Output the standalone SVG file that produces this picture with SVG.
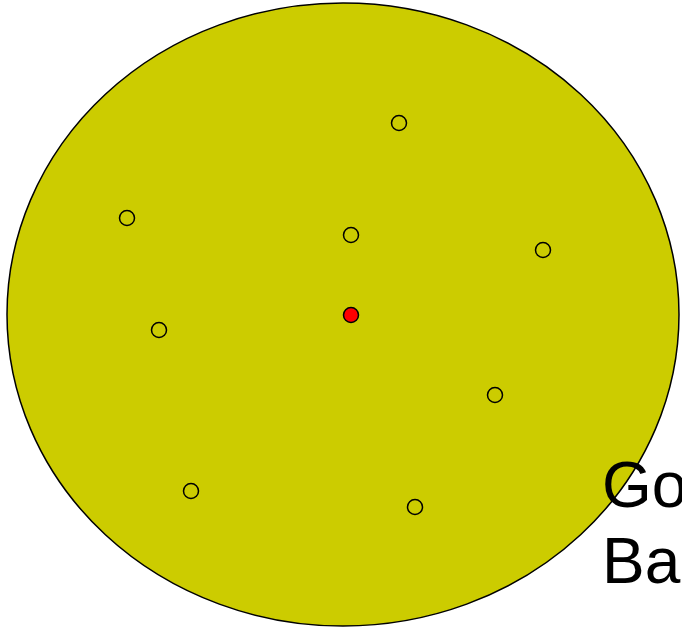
<svg xmlns="http://www.w3.org/2000/svg" width="682" height="634" viewBox="0 0 682 634">
<style>
.big{fill:#cccc00;stroke:#000;stroke-width:1.5}
.pt{fill:none;stroke:#000;stroke-width:1.5}
.ctr{fill:#ff0000;stroke:#000;stroke-width:1.5}
.lbl{font-family:"Liberation Sans",Arial,sans-serif;font-size:64px;fill:#000}
</style>
<g id="region"><ellipse class="big" cx="343" cy="314.5" rx="336" ry="311.5"/></g>
<g id="points">
<circle class="pt" cx="399" cy="123" r="7.5"/>
<circle class="pt" cx="127" cy="218" r="7.5"/>
<circle class="pt" cx="351" cy="235" r="7.5"/>
<circle class="pt" cx="543" cy="250" r="7.5"/>
<circle class="pt" cx="159" cy="330" r="7.5"/>
<circle class="pt" cx="495" cy="395" r="7.5"/>
<circle class="pt" cx="191" cy="491" r="7.5"/>
<circle class="pt" cx="415" cy="507" r="7.5"/>
</g>
<g id="center"><circle class="ctr" cx="351" cy="315" r="7.5"/></g>
<g id="label">
<text class="lbl" x="602" y="507">Go</text>
<text class="lbl" x="602" y="583">Ba</text>
</g>
</svg>
